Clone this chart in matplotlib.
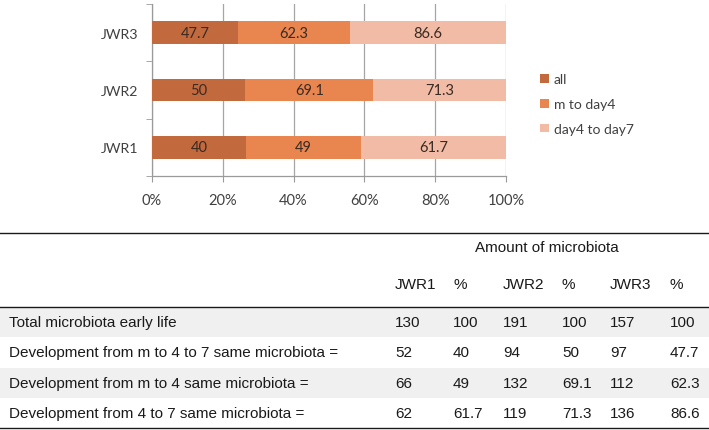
import numpy as np
import matplotlib
matplotlib.use('Agg')
import matplotlib.pyplot as plt

# chart data
groups = ['JWR1', 'JWR2', 'JWR3']
series_names = ['all', 'm to day4', 'day4 to day7']
all_pct = [40, 50, 47.7]
m_day4_pct = [49, 69.1, 62.3]
day4_day7_pct = [61.7, 71.3, 86.6]
colors = ['#c3693e', '#e9854f', '#f2bba6']

# table data
row_labels = ['Total microbiota early life',
              'Development from m to 4 to 7 same microbiota =',
              'Development from m to 4 same microbiota =',
              'Development from 4 to 7 same microbiota =']
jwr1_counts = [130, 52, 66, 62]
jwr2_counts = [191, 94, 132, 119]
jwr3_counts = [157, 97, 112, 136]
jwr1_pct = ['100', '40', '49', '61.7']
jwr2_pct = ['100', '50', '69.1', '71.3']
jwr3_pct = ['100', '47.7', '62.3', '86.6']
col_headers = ['JWR1', '%', 'JWR2', '%', 'JWR3', '%']

W, H = 709, 431
fig = plt.figure(figsize=(W / 100, H / 100), dpi=100)

chart_font = 'Lato'
table_font = 'Liberation Sans'

# ---- stacked 100% bar chart
ax = fig.add_axes([152 / W, 1 - 177 / H, 354 / W, 172 / H])
vals = np.array([all_pct, m_day4_pct, day4_day7_pct])
shares = vals / vals.sum(axis=0) * 100
y = np.arange(len(groups))
left = np.zeros(len(groups))
for i in range(len(series_names)):
    ax.barh(y, shares[i], left=left, height=0.39, color=colors[i],
            label=series_names[i], zorder=3)
    for j in range(len(groups)):
        ax.text(left[j] + shares[i][j] / 2, y[j], f'{vals[i][j]:g}',
                ha='center', va='center', fontsize=10.5, color='#3a2a22',
                family=chart_font, zorder=4)
    left += shares[i]

ax.set_xlim(0, 100)
ax.set_ylim(-0.5, 2.5)
ax.set_xticks(np.arange(0, 101, 20))
ax.set_xticklabels([f'{t}%' for t in range(0, 101, 20)], family=chart_font,
                   fontsize=10.5, color='#404040')
ax.set_yticks(y)
ax.set_yticklabels(groups, family=chart_font, fontsize=10.2, color='#404040')
ax.set_yticks([-0.5, 0.5, 1.5, 2.5], minor=True)
ax.tick_params(axis='y', which='major', length=0, pad=10)
ax.tick_params(axis='y', which='minor', length=4, color='#9a9a9a', direction='out')
ax.tick_params(axis='x', length=4, color='#9a9a9a', direction='out', pad=8)
ax.grid(axis='x', color='#a6a6a6', linewidth=0.9, zorder=0)
for s in ['top', 'right']:
    ax.spines[s].set_visible(False)
for s in ['left', 'bottom']:
    ax.spines[s].set_color('#9a9a9a')
    ax.spines[s].set_linewidth(0.9)

leg = ax.legend(loc='center left', bbox_to_anchor=(1.062, 0.418), frameon=False,
                handlelength=0.6, handleheight=0.6, handletextpad=0.35,
                labelspacing=0.92, prop={'family': chart_font, 'size': 10})
for t in leg.get_texts():
    t.set_color('#404040')

# ---- table below
tb = fig.add_axes([0, 0, 1, 1])
tb.set_xlim(0, W)
tb.set_ylim(H, 0)
tb.axis('off')

top_line, head_line, row_h = 234, 308, 30.3
col_x = [395, 453, 503, 562, 610, 670]
fs = 11

for k in range(len(row_labels)):
    if k % 2 == 0:
        tb.axhspan(head_line + k * row_h, head_line + (k + 1) * row_h,
                   color='#f0f0f0', lw=0, zorder=0)
bottom_line = head_line + len(row_labels) * row_h
for yl in [top_line, head_line, bottom_line]:
    tb.axhline(yl, color='#1a1a1a', lw=1.0, zorder=2)

tb.text(547, 248, 'Amount of microbiota', ha='center',
        va='center', fontsize=fs, family=table_font, color='#1a1a1a')
for cx, h in zip(col_x, col_headers):
    tb.text(cx, 285, h, ha='left', va='center', fontsize=fs, family=table_font,
            color='#1a1a1a')

cols = list(zip(jwr1_counts, jwr1_pct, jwr2_counts, jwr2_pct, jwr3_counts, jwr3_pct))
for k, lab in enumerate(row_labels):
    yc = head_line + (k + 0.5) * row_h
    tb.text(9, yc, lab, ha='left', va='center', fontsize=fs, family=table_font,
            color='#1a1a1a')
    for cx, v in zip(col_x, cols[k]):
        tb.text(cx, yc, str(v), ha='left', va='center', fontsize=fs,
                family=table_font, color='#1a1a1a')

fig.savefig('out.png', dpi=100)
